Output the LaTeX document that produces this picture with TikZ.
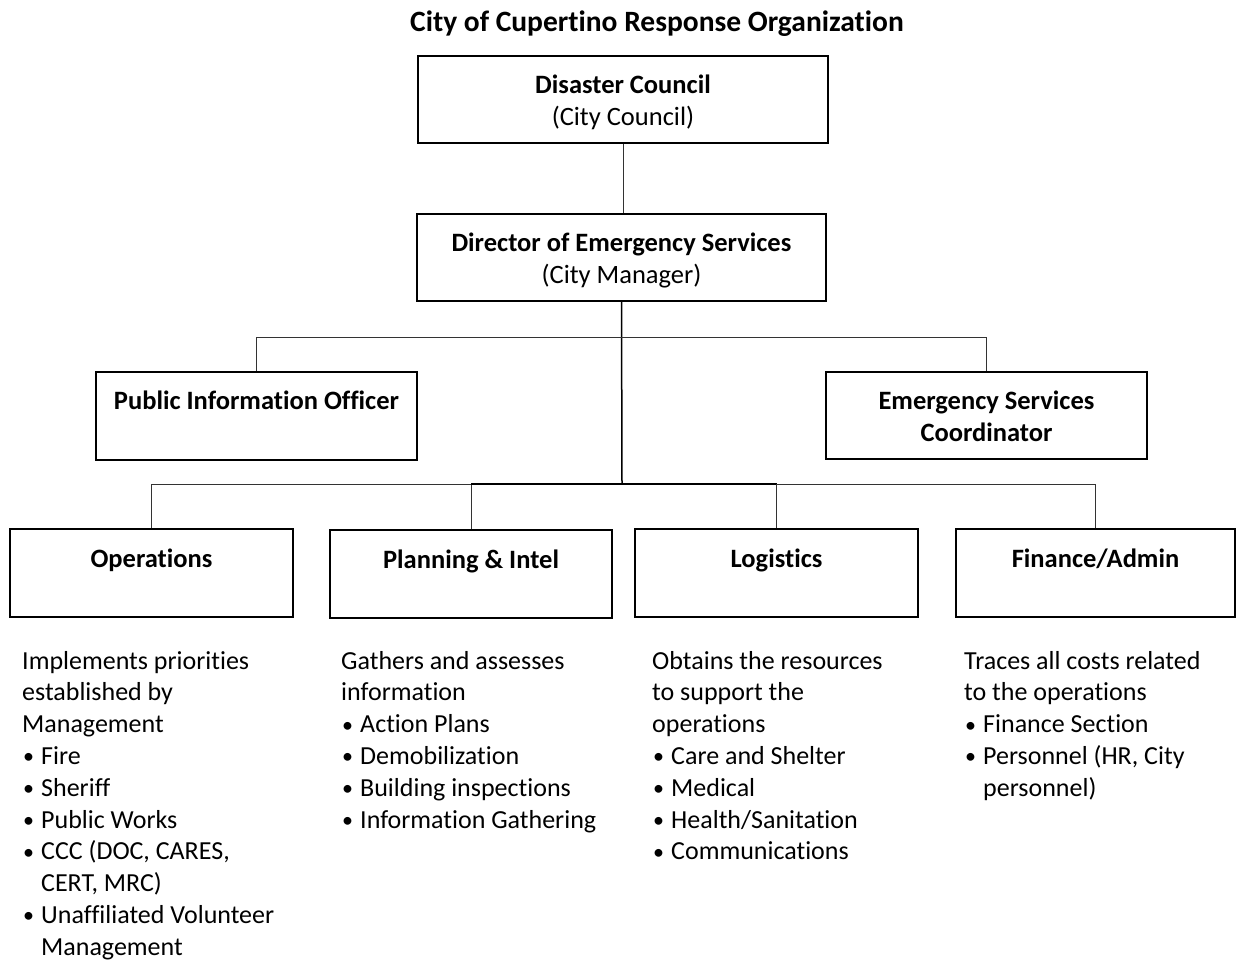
\documentclass[tikz,border=0pt]{standalone}
\usepackage{fontspec}
\setmainfont{Carlito}[Ligatures={NoCommon}]
\usepackage{tikz}
\usetikzlibrary{positioning}
\newcommand{\bl}{\makebox[19pt][l]{\hspace{1pt}\raisebox{0.5pt}{\fontsize{22}{22}\selectfont\textbullet}}}
\newcommand{\ind}{\hspace*{19pt}}

\begin{document}
\begin{tikzpicture}[x=1pt, y=-1pt,
    box/.style={draw, line width=1.6pt, inner sep=0pt},
    boxtext/.style={font=\fontsize{26.5}{32}\selectfont\bfseries, align=center, inner sep=0pt, anchor=base},
    notes/.style={font=\fontsize{26}{31.8}\selectfont, align=left, inner sep=0pt, anchor=base west},
    link/.style={draw, line width=1pt, black!80},
    trunk/.style={draw, line width=1.5pt}]
    \useasboundingbox (0,0) rectangle (1236,961);
    \node[font=\fontsize{29.5}{30}\selectfont\bfseries, inner sep=0pt, anchor=base] (title) at (657,31) {City of Cupertino Response Organization};
    % top of the tree (base = last line)
    \node[box, minimum width=410, minimum height=87] (council) at (623,99.5) {};
    \node[boxtext] (council-t) at (623,125) {Disaster Council\\\mdseries(City Council)};
    \node[box, minimum width=409, minimum height=87] (dir) at (621.5,257.5) {};
    \node[boxtext] (dir-t) at (621.5,283) {Director of Emergency Services\\\mdseries(City Manager)};
    \node[box, minimum width=321, minimum height=88] (pio) at (256.5,416) {};
    \node[boxtext] (pio-t) at (256.5,409) {Public Information Officer};
    \node[box, minimum width=321, minimum height=87] (esc) at (986.5,415.5) {};
    \node[boxtext] (esc-t) at (986.5,441) {Emergency Services\\Coordinator};
    % sections
    \node[box, minimum width=283, minimum height=88] (ops) at (151.5,573) {};
    \node[boxtext] (ops-t) at (151.5,567) {Operations};
    \node[box, minimum width=282, minimum height=88] (plan) at (471,574) {};
    \node[boxtext] (plan-t) at (471,568) {Planning \& Intel};
    \node[box, minimum width=283, minimum height=88] (log) at (776.5,573) {};
    \node[boxtext] (log-t) at (776.5,567) {Logistics};
    \node[box, minimum width=279, minimum height=88] (fin) at (1095.5,573) {};
    \node[boxtext] (fin-t) at (1095.5,567) {Finance/Admin};
    % connectors
    \coordinate (staff) at (622,337);
    \coordinate (split) at (622,484);
    \path[link] (council.south) -- (council.south |- dir.north);
    \path[trunk] (dir.south) -- (split);
    \path[link] (pio.north) -- (pio.north |- staff) -- (esc.north |- staff) -- (esc.north);
    \path[link] (ops.north) -- (ops.north |- split) -- (plan.north |- split);
    \path[link] (plan.north) -- (plan.north |- split);
    \path[trunk] (plan.north |- split) -- (log.north |- split);
    \path[link] (log.north |- split) -- (fin.north |- split) -- (fin.north);
    \path[link] (log.north) -- (log.north |- split);
    % notes under the sections (base = last line)
    \node[notes] (ops-n) at (22,955.2) {Implements priorities\\established by\\Management\\\bl Fire\\\bl Sheriff\\\bl Public Works\\\bl CCC (DOC, CARES,\\\ind CERT, MRC)\\\bl Unaffiliated Volunteer\\\ind Management};
    \node[notes] (plan-n) at (341,828) {Gathers and assesses\\information\\\bl Action Plans\\\bl Demobilization\\\bl Building inspections\\\bl Information Gathering};
    \node[notes] (log-n) at (652,859.8) {Obtains the resources\\to support the\\operations\\\bl Care and Shelter\\\bl Medical\\\bl Health/Sanitation\\\bl Communications};
    \node[notes] (fin-n) at (964,796.2) {Traces all costs related\\to the operations\\\bl Finance Section\\\bl Personnel (HR, City\\\ind personnel)};
\end{tikzpicture}
\end{document}
